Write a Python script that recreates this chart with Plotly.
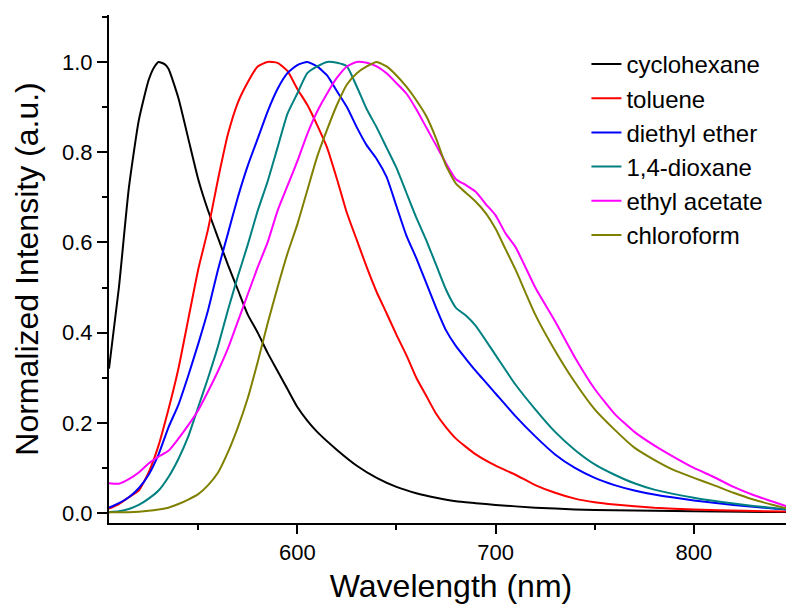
import plotly.graph_objects as go

# ---- data ----
cyc_x = [505, 510, 515, 520, 525, 528, 530, 533, 535, 540, 545, 550, 555, 560, 565, 570, 575, 580, 585, 590, 595, 600,
         605, 610, 620, 630, 640, 650, 660, 670, 680, 690, 700, 720, 740, 760, 780, 800, 825, 850]
cyc_y = [0.32, 0.50, 0.72, 0.87, 0.96, 0.99, 1.0, 0.995, 0.985, 0.92, 0.83, 0.74, 0.67, 0.61, 0.55, 0.495, 0.44, 0.40, 0.355,
         0.315, 0.275, 0.235, 0.205, 0.18, 0.14, 0.105, 0.078, 0.058, 0.044, 0.034, 0.026, 0.022, 0.018, 0.012,
         0.008, 0.006, 0.005, 0.004, 0.003, 0.002]

tol_x = [505, 510, 515, 520, 525, 530, 535, 540, 545, 550, 555, 560, 565, 570, 575, 580, 585, 590, 595, 600,
         605, 610, 615, 620, 625, 630, 635, 640, 645, 650, 655, 660, 665, 670, 675, 680, 690, 700, 710, 720,
         730, 740, 750, 760, 780, 800, 825, 850]
tol_y = [0.01, 0.02, 0.035, 0.05, 0.09, 0.15, 0.23, 0.32, 0.43, 0.54, 0.63, 0.74, 0.84, 0.91, 0.955, 0.99, 1.0,
         0.998, 0.98, 0.94, 0.905, 0.86, 0.81, 0.74, 0.665, 0.605, 0.545, 0.49, 0.443, 0.395, 0.35, 0.30, 0.26,
         0.22, 0.19, 0.165, 0.13, 0.105, 0.085, 0.062, 0.045, 0.032, 0.024, 0.019, 0.012, 0.008, 0.005, 0.003]

eth_x = [505, 510, 515, 520, 525, 530, 535, 540, 545, 550, 555, 560, 565, 570, 575, 580, 585, 590, 595, 600,
         605, 610, 615, 620, 625, 630, 635, 640, 645, 650, 655, 660, 665, 670, 675, 680, 685, 690, 700, 710,
         720, 730, 740, 750, 760, 770, 780, 800, 820, 840, 850]
eth_y = [0.012, 0.022, 0.035, 0.055, 0.085, 0.13, 0.19, 0.24, 0.305, 0.375, 0.45, 0.54, 0.62, 0.70, 0.77, 0.83,
         0.89, 0.94, 0.975, 0.993, 1.0, 0.99, 0.97, 0.935, 0.9, 0.855, 0.815, 0.785, 0.745, 0.68, 0.615, 0.565,
         0.51, 0.455, 0.405, 0.37, 0.342, 0.315, 0.265, 0.215, 0.17, 0.13, 0.10, 0.078, 0.062, 0.05, 0.041,
         0.028, 0.018, 0.010, 0.007]

dio_x = [505, 510, 515, 520, 525, 530, 535, 540, 545, 550, 555, 560, 565, 570, 575, 580, 585, 590, 595, 600,
         605, 610, 615, 620, 625, 630, 635, 640, 645, 650, 655, 660, 665, 670, 675, 680, 685, 690, 700, 710,
         720, 730, 740, 750, 760, 770, 780, 800, 820, 840, 850]
dio_y = [0.002, 0.004, 0.009, 0.018, 0.032, 0.05, 0.08, 0.12, 0.17, 0.235, 0.30, 0.37, 0.45, 0.525, 0.595, 0.67,
         0.735, 0.81, 0.885, 0.93, 0.975, 0.99, 1.0, 0.998, 0.99, 0.945, 0.895, 0.855, 0.81, 0.765, 0.71, 0.655,
         0.605, 0.55, 0.495, 0.455, 0.438, 0.415, 0.35, 0.285, 0.23, 0.18, 0.14, 0.108, 0.085, 0.066, 0.052,
         0.034, 0.021, 0.011, 0.007]

eac_x = [505, 510, 515, 520, 525, 530, 535, 540, 545, 550, 555, 560, 565, 570, 575, 580, 585, 590, 595, 600,
         605, 610, 615, 620, 625, 630, 635, 640, 645, 650, 655, 660, 665, 670, 675, 680, 685, 690, 695, 700,
         705, 710, 720, 730, 740, 750, 760, 770, 780, 790, 800, 810, 820, 830, 840, 850]
eac_y = [0.066, 0.065, 0.075, 0.09, 0.11, 0.125, 0.138, 0.165, 0.195, 0.228, 0.27, 0.315, 0.365, 0.425, 0.485,
         0.545, 0.6, 0.67, 0.725, 0.78, 0.84, 0.89, 0.93, 0.965, 0.99, 1.0, 0.998, 0.99, 0.975, 0.953, 0.93,
         0.895, 0.855, 0.815, 0.775, 0.74, 0.727, 0.712, 0.685, 0.66, 0.62, 0.59, 0.50, 0.425, 0.345, 0.275,
         0.22, 0.18, 0.15, 0.124, 0.10, 0.08, 0.058, 0.04, 0.025, 0.01]

chl_x = [505, 510, 515, 520, 525, 530, 535, 540, 545, 550, 555, 560, 565, 570, 575, 580, 585, 590, 595, 600,
         605, 610, 615, 620, 625, 630, 635, 640, 645, 650, 655, 660, 665, 670, 675, 680, 685, 690, 695, 700,
         705, 710, 720, 730, 740, 750, 760, 770, 780, 790, 800, 810, 820, 830, 840, 850]
chl_y = [0.002, 0.002, 0.002, 0.003, 0.005, 0.008, 0.012, 0.02, 0.03, 0.042, 0.062, 0.09, 0.135, 0.19, 0.255,
         0.335, 0.42, 0.5, 0.575, 0.64, 0.715, 0.79, 0.85, 0.905, 0.95, 0.975, 0.99, 1.0, 0.99, 0.97, 0.945,
         0.915, 0.88, 0.83, 0.77, 0.73, 0.71, 0.69, 0.665, 0.63, 0.585, 0.54, 0.44, 0.36, 0.29, 0.23, 0.185,
         0.145, 0.118, 0.095, 0.078, 0.062, 0.045, 0.03, 0.018, 0.007]

series = [
    ("cyclohexane", cyc_x, cyc_y, "#000000"),
    ("toluene", tol_x, tol_y, "#ff0000"),
    ("diethyl ether", eth_x, eth_y, "#0000ff"),
    ("1,4-dioxane", dio_x, dio_y, "#008080"),
    ("ethyl acetate", eac_x, eac_y, "#ff00ff"),
    ("chloroform", chl_x, chl_y, "#808000"),
]

fig = go.Figure()
for i, (name, xs, ys, col) in enumerate(series):
    fig.add_trace(go.Scatter(x=xs, y=ys, name=name, mode="lines",
                             line=dict(color=col, width=2, shape="spline", smoothing=0.5)))

font_family = "Liberation Sans, Arial, sans-serif"
fig.update_layout(
    width=794, height=608,
    margin=dict(l=101, r=9, t=7, b=93),
    plot_bgcolor="white", paper_bgcolor="white",
    font=dict(family=font_family, color="black"),
    showlegend=True,
    legend=dict(x=0.698, y=0.947, xanchor="left", yanchor="top",
                font=dict(size=24, family=font_family, color="black"),
                bgcolor="rgba(0,0,0,0)", tracegroupgap=0),
    xaxis=dict(range=[505, 850], showline=True, linecolor="black", linewidth=2,
               ticks="outside", ticklen=9, tickwidth=1.5, tickcolor="black",
               tick0=500, dtick=100, showgrid=False, zeroline=False, automargin=False,
               tickfont=dict(size=22),
               minor=dict(ticks="outside", ticklen=5, tickwidth=1.5, tickcolor="black", dtick=50, tick0=500),
               title=dict(text="Wavelength (nm)", font=dict(size=32), standoff=10)),
    yaxis=dict(range=[-0.022, 1.104], showline=True, linecolor="black", linewidth=2,
               ticks="outside", ticklen=10, tickwidth=1.5, tickcolor="black",
               tick0=0, dtick=0.2, tickformat=".1f", showgrid=False, zeroline=False, automargin=False,
               tickfont=dict(size=22),
               minor=dict(ticks="outside", ticklen=5, tickwidth=1.5, tickcolor="black", dtick=0.1, tick0=0),
               title=dict(text="Normalized Intensity (a.u.)", font=dict(size=32), standoff=14)),
)

fig.write_html("out.html")
